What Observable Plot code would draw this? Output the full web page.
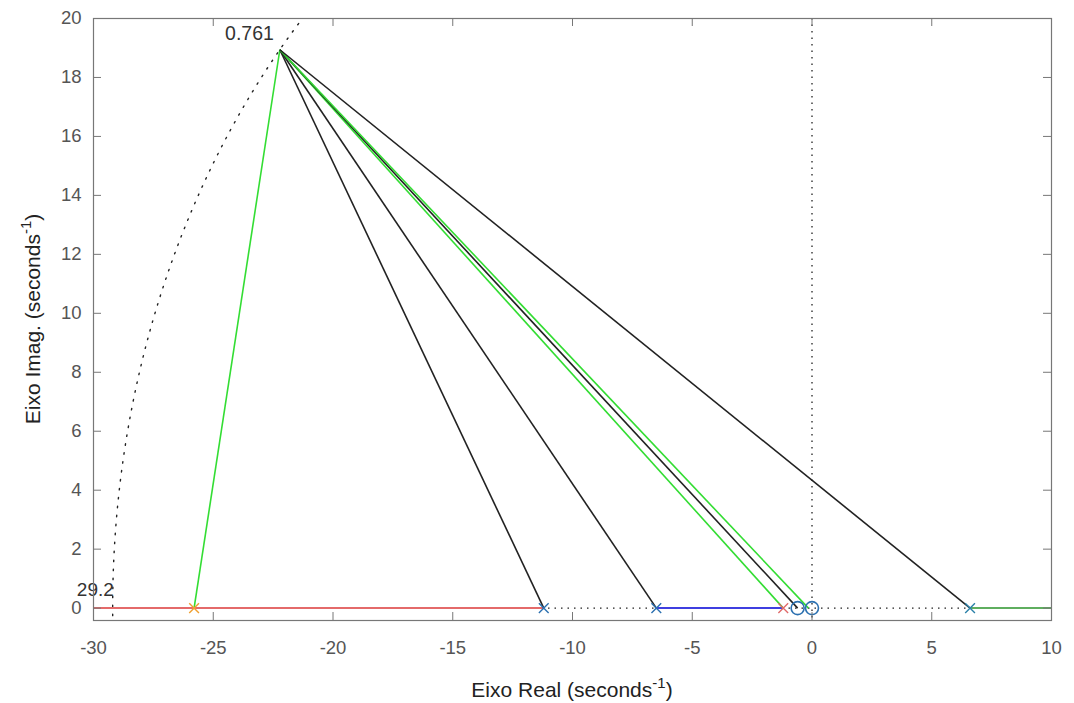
<!DOCTYPE html>
<html><head><meta charset="utf-8">
<script src="https://cdn.jsdelivr.net/npm/d3@7"></script>
<script src="https://cdn.jsdelivr.net/npm/@observablehq/plot@0.6"></script>
<style>body{margin:0;background:#fff}</style>
</head><body><div id="chart"></div>
<script>
// --- data ---
const apexX = -22.22, apexY = 18.94;          // selected closed-loop pole
const zetaLabel = "0.761", wnLabel = "29.2";
const wn = 29.2;
const spokeEnds   = [-25.8, -11.2, -6.5, -1.2, -0.6, -0.15, 6.6];
const spokeColors = ["#33dd33", "#222222", "#222222", "#33dd33", "#222222", "#33dd33", "#222222"];
const branchStart = [-30, -6.5, 6.6];
const branchEnd   = [-11.2, -1.2, 10];
const branchColor = ["#e46a6a", "#3f3fe0", "#5fae5f"];
const polesX      = [-11.2, -6.5, 6.6, -1.2, -25.8];
const poleColor   = ["#2b70b0", "#2b70b0", "#2b80a8", "#e06a6a", "#f0a030"];
const zerosX      = [-0.6, 0];
const xTicks = [-30, -25, -20, -15, -10, -5, 0, 5, 10];
const yTicks = [0, 2, 4, 6, 8, 10, 12, 14, 16, 18, 20];

const X0 = -30, X1 = 10, Y0 = -0.42, Y1 = 20;
const W = 1074, H = 703, mL = 93, mR = 23, mT = 18, mB = 83;
const pxPerY = (H - mT - mB) / (Y1 - Y0);
const pxPerX = (W - mL - mR) / (X1 - X0);
const tickLenY = 8 / pxPerY, tickLenX = 8 / pxPerX;

const spokes = spokeEnds.map((x, i) => ({x1: apexX, y1: apexY, x2: x, y2: 0, c: spokeColors[i]}));
const branches = branchStart.map((s, i) => ({x1: s, x2: branchEnd[i], c: branchColor[i]}));
const poles = polesX.map((x, i) => ({x, y: 0, c: poleColor[i]}));
const zeros = zerosX.map(x => ({x, y: 0}));
// natural-frequency grid circle (|s| = wn)
const arc = d3.range(-1, 91, 0.5).map(a => ({x: -wn * Math.cos(a * Math.PI / 180), y: wn * Math.sin(a * Math.PI / 180)}))
  .filter(d => d.y <= Y1 && d.y >= Y0);

const font = "'Liberation Sans', Arial, Helvetica, sans-serif";
const fmt = d => String(d);
const plot = Plot.plot({
  width: W, height: H,
  marginLeft: mL, marginRight: mR, marginTop: mT, marginBottom: mB,
  x: {domain: [X0, X1]},
  y: {domain: [Y0, Y1]},
  style: {fontFamily: font, fontSize: "18.5px", color: "#555", background: "white"},
  marks: [
    // grid-like dotted axes
    Plot.ruleY([0], {stroke: "#222", strokeDasharray: "1.5,5", strokeWidth: 1.3}),
    Plot.ruleX([0], {stroke: "#222", strokeDasharray: "1.5,5", strokeWidth: 1.3}),
    Plot.line(arc, {x: "x", y: "y", stroke: "#222", strokeDasharray: "1.5,7.5", strokeWidth: 1.4}),
    // locus branches on real axis
    Plot.link(branches, {x1: "x1", x2: "x2", y1: 0, y2: 0, stroke: "c", strokeWidth: 2}),
    // spokes from selected pole
    Plot.link(spokes, {x1: "x1", y1: "y1", x2: "x2", y2: "y2", stroke: "c", strokeWidth: 1.6}),
    // poles and zeros
    Plot.dot(poles, {x: "x", y: "y", symbol: "times", stroke: "c", r: 4.5, strokeWidth: 1.4}),
    Plot.dot(zeros, {x: "x", y: "y", stroke: "#2b70b0", r: 6.5, strokeWidth: 1.6}),
    // labels
    Plot.text([zetaLabel], {x: apexX - 0.25, y: apexY + 0.55, text: d => d, textAnchor: "end", fontSize: 19.5, fill: "#333"}),
    Plot.text([wnLabel], {x: -wn + 0.05, y: 0.62, text: d => d, textAnchor: "end", fontSize: 19, fill: "#333", clip: false}),
    // frame + inward ticks
    Plot.frame({stroke: "#777", strokeWidth: 1.2}),
    Plot.ruleX(xTicks, {y1: Y0, y2: Y0 + tickLenY, stroke: "#777"}),
    Plot.ruleX(xTicks, {y1: Y1, y2: Y1 - tickLenY, stroke: "#777"}),
    Plot.ruleY(yTicks, {x1: X0, x2: X0 + tickLenX, stroke: "#777"}),
    Plot.ruleY(yTicks, {x1: X1, x2: X1 - tickLenX, stroke: "#777"}),
    Plot.axisX({ticks: xTicks, tickFormat: fmt, tickSize: 0, tickPadding: 20, label: null, fontSize: 18.5, fill: "#555"}),
    Plot.axisY({ticks: yTicks, tickFormat: fmt, tickSize: 0, tickPadding: 12, label: null, fontSize: 18.5, fill: "#555"})
  ]
});
document.getElementById("chart").appendChild(plot);

// axis titles with superscripts
const svg = d3.select(plot);
const xt = svg.append("text").attr("x", mL + (W - mL - mR) / 2).attr("y", 697)
  .attr("text-anchor", "middle").attr("font-family", font).attr("font-size", 21).attr("fill", "#222");
xt.append("tspan").text("Eixo Real (seconds");
xt.append("tspan").attr("dy", -9).attr("font-size", 15).text("-1");
xt.append("tspan").attr("dy", 9).text(")");
const yt = svg.append("text").attr("transform", `translate(40,${mT + (H - mT - mB) / 2}) rotate(-90)`)
  .attr("text-anchor", "middle").attr("font-family", font).attr("font-size", 21).attr("fill", "#222");
yt.append("tspan").text("Eixo Imag. (seconds");
yt.append("tspan").attr("dy", -9).attr("font-size", 15).text("-1");
yt.append("tspan").attr("dy", 9).text(")");
</script>
</body></html>
